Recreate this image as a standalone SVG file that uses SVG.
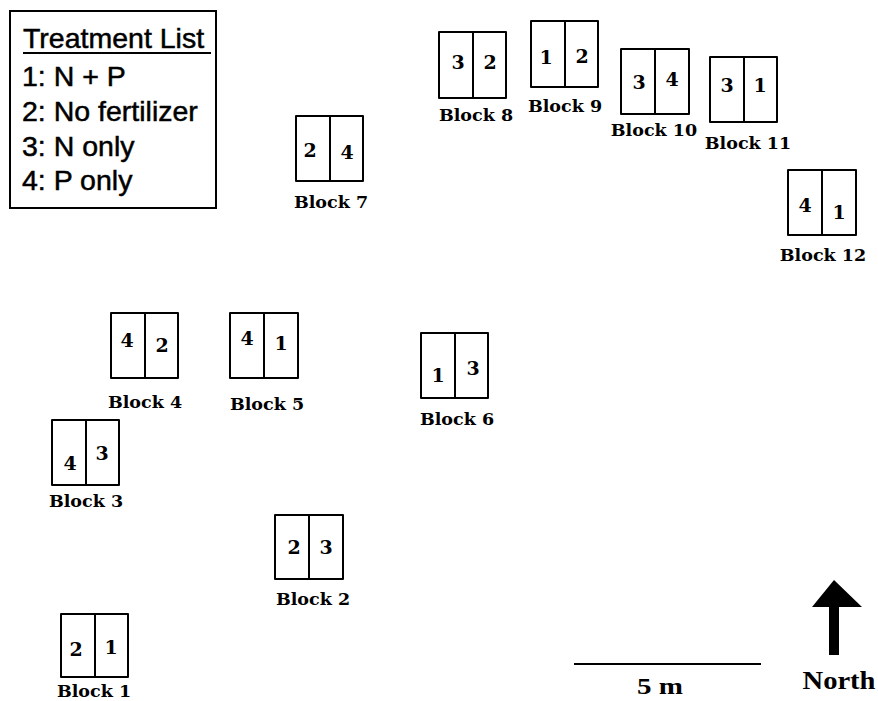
<svg xmlns="http://www.w3.org/2000/svg" width="878" height="701" viewBox="0 0 878 701">
<style>
.cell{fill:none;stroke:#000;stroke-width:2;stroke-linejoin:round}
.div{stroke:#000;stroke-width:2}
.num{font-family:"DejaVu Serif",serif;font-weight:bold;font-size:19px;text-anchor:middle;fill:#000}
.lbl{font-family:"DejaVu Serif",serif;font-weight:bold;font-size:17.5px;text-anchor:middle;fill:#000}
.leg{font-family:"Liberation Sans",Arial,sans-serif;font-size:28.5px;fill:#000;stroke:#000;stroke-width:0.5}
</style>
<rect width="878" height="701" fill="#fff"/>
<g id="legend">
<rect x="10" y="11" width="206" height="197" fill="#fff" stroke="#000" stroke-width="2"/>
<text class="leg" x="23" y="48">Treatment List</text>
<line x1="23" y1="53" x2="211" y2="53" stroke="#000" stroke-width="2"/>
<text class="leg" x="22" y="86">1: N + P</text>
<text class="leg" x="22" y="121">2: No fertilizer</text>
<text class="leg" x="22" y="156">3: N only</text>
<text class="leg" x="22" y="190">4: P only</text>
</g>
<g id="connectors"/>
<g id="block1">
<rect class="cell" x="61" y="614" width="67" height="63"/><line class="div" x1="95" y1="614" x2="95" y2="677"/>
<text class="num" x="76" y="656">2</text><text class="num" x="111" y="654">1</text>
<text class="lbl" x="94" y="697">Block 1</text>
</g>
<g id="block2">
<rect class="cell" x="275" y="515" width="68" height="64"/><line class="div" x1="309" y1="515" x2="309" y2="579"/>
<text class="num" x="294" y="554">2</text><text class="num" x="326" y="554">3</text>
<text class="lbl" x="313" y="605">Block 2</text>
</g>
<g id="block3">
<rect class="cell" x="52" y="420" width="67" height="65"/><line class="div" x1="86" y1="420" x2="86" y2="485"/>
<text class="num" x="70" y="470">4</text><text class="num" x="102" y="460">3</text>
<text class="lbl" x="86" y="507">Block 3</text>
</g>
<g id="block4">
<rect class="cell" x="111" y="313" width="67" height="65"/><line class="div" x1="145" y1="313" x2="145" y2="378"/>
<text class="num" x="127" y="347">4</text><text class="num" x="162" y="352">2</text>
<text class="lbl" x="145" y="408">Block 4</text>
</g>
<g id="block5">
<rect class="cell" x="230" y="313" width="68" height="65"/><line class="div" x1="264" y1="313" x2="264" y2="378"/>
<text class="num" x="247" y="345">4</text><text class="num" x="281" y="350">1</text>
<text class="lbl" x="267" y="410">Block 5</text>
</g>
<g id="block6">
<rect class="cell" x="421" y="333" width="67" height="65"/><line class="div" x1="455" y1="333" x2="455" y2="398"/>
<text class="num" x="438" y="382">1</text><text class="num" x="473" y="375">3</text>
<text class="lbl" x="457" y="425">Block 6</text>
</g>
<g id="block7">
<rect class="cell" x="296" y="116" width="67" height="65"/><line class="div" x1="330" y1="116" x2="330" y2="181"/>
<text class="num" x="310" y="157">2</text><text class="num" x="347" y="159">4</text>
<text class="lbl" x="331" y="208">Block 7</text>
</g>
<g id="block8">
<rect class="cell" x="439" y="32" width="67" height="66"/><line class="div" x1="473" y1="32" x2="473" y2="98"/>
<text class="num" x="458" y="69">3</text><text class="num" x="490" y="69">2</text>
<text class="lbl" x="476" y="121">Block 8</text>
</g>
<g id="block9">
<rect class="cell" x="531" y="21" width="67" height="66"/><line class="div" x1="565" y1="21" x2="565" y2="87"/>
<text class="num" x="546" y="64">1</text><text class="num" x="582" y="63">2</text>
<text class="lbl" x="565" y="112">Block 9</text>
</g>
<g id="block10">
<rect class="cell" x="621" y="49" width="68" height="65"/><line class="div" x1="655" y1="49" x2="655" y2="114"/>
<text class="num" x="639" y="89">3</text><text class="num" x="672" y="86">4</text>
<text class="lbl" x="654" y="136">Block 10</text>
</g>
<g id="block11">
<rect class="cell" x="710" y="57" width="67" height="65"/><line class="div" x1="744" y1="57" x2="744" y2="122"/>
<text class="num" x="727" y="92">3</text><text class="num" x="760" y="92">1</text>
<text class="lbl" x="748" y="149">Block 11</text>
</g>
<g id="block12">
<rect class="cell" x="788" y="170" width="68" height="65"/><line class="div" x1="822" y1="170" x2="822" y2="235"/>
<text class="num" x="805" y="212">4</text><text class="num" x="839" y="219">1</text>
<text class="lbl" x="823" y="261">Block 12</text>
</g>
<g id="scale">
<line x1="574" y1="664" x2="761" y2="664" stroke="#000" stroke-width="2"/>
<text x="660" y="694" font-family="Liberation Serif,Times New Roman,serif" font-weight="bold" font-size="23" text-anchor="middle" textLength="46" lengthAdjust="spacingAndGlyphs">5 m</text>
</g>
<g id="north">
<polygon points="834,580 862,607 839,607 839,655 829,655 829,607 812,607" fill="#000"/>
<text x="839" y="689" font-family="Liberation Serif,Times New Roman,serif" font-weight="bold" font-size="25" text-anchor="middle" textLength="73" lengthAdjust="spacingAndGlyphs">North</text>
</g>
</svg>
